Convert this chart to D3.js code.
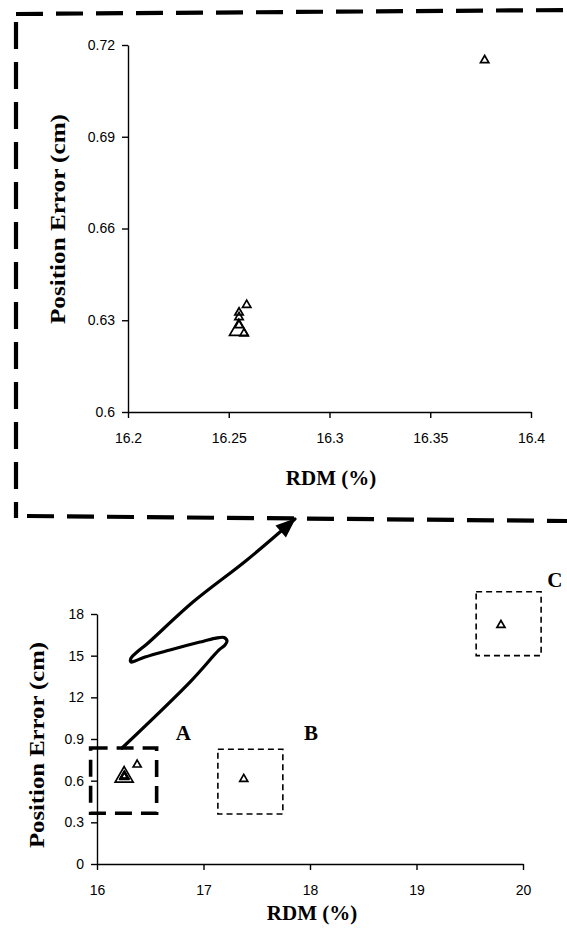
<!DOCTYPE html>
<html>
<head>
<meta charset="utf-8">
<script src="https://cdn.jsdelivr.net/npm/d3@7"></script>
<style>
  html, body { margin: 0; padding: 0; background: #fff; }
  svg { display: block; }
  .tick-label { font-family: "Liberation Sans", Arial, sans-serif; font-size: 14px; fill: #000; }
  .title { font-family: "Liberation Serif", "Times New Roman", serif; font-weight: bold; fill: #000; }
</style>
</head>
<body>
<svg id="chart" width="567" height="941"></svg>
<script>
// ---- data ----
// RDM (%) and position error (cm) for each simulated source position
const rdm      = [16.2589, 16.2551, 16.2551, 16.2551, 16.2576, 16.377, 17.378, 19.793];
const posError = [0.635,   0.6325,  0.631,   0.6284,  0.6257,  0.715,  0.612,  1.72];
// highlighted point (drawn with a larger marker)
const hiRdm = [16.255];
const hiErr = [0.6268];

// tick values and labels, zoomed-in panel
const zoomXTicks  = [16.2, 16.25, 16.3, 16.35, 16.4];
const zoomXLabels = ["16.2", "16.25", "16.3", "16.35", "16.4"];
const zoomYTicks  = [0.6, 0.63, 0.66, 0.69, 0.72];
const zoomYLabels = ["0.6", "0.63", "0.66", "0.69", "0.72"];

// tick values and labels, overview panel
const fullXTicks  = [16, 17, 18, 19, 20];
const fullXLabels = ["16", "17", "18", "19", "20"];
const fullYTicks  = [0, 0.3, 0.6, 0.9, 1.2, 1.5, 1.8];
const fullYLabels = ["0", "0.3", "0.6", "0.9", "12", "15", "18"];

// region boxes in the overview panel: [xMin, xMax, yMin, yMax]
const regionNames = ["A", "B", "C"];
const regionBoxes = [[15.94, 16.56, 0.365, 0.835], [17.135, 17.745, 0.36, 0.826], [19.56, 20.17, 1.50, 1.96]];
const letterPos   = [[16.81, 0.94], [18.01, 0.94], [20.30, 2.045]];
// callout arrow from region A up to the zoomed panel (RDM, error units of the overview panel)
const arrowRdm = [16.235, 16.873, 17.146, 17.202, 17.221, 17.192, 17.108, 16.967, 16.685, 16.451, 16.357, 16.319, 16.319, 16.376, 16.469, 16.901, 17.408, 17.859];
const arrowErr = [0.835, 1.310, 1.541, 1.577, 1.606, 1.631, 1.624, 1.598, 1.541, 1.490, 1.462, 1.454, 1.483, 1.526, 1.584, 1.886, 2.189, 2.484];

const svg = d3.select("#chart");

// ---- scales ----
const xZoom = d3.scaleLinear().domain([16.2, 16.4]).range([128, 531]);
const yZoom = d3.scaleLinear().domain([0.6, 0.72]).range([412, 45]);
const xFull = d3.scaleLinear().domain([16, 20]).range([97, 523]);
const yFull = d3.scaleLinear().domain([0, 1.8]).range([864, 614]);

const points = rdm.map((r, i) => ({ x: r, y: posError[i] }));
const hiPoints = hiRdm.map((r, i) => ({ x: r, y: hiErr[i] }));

function drawAxes(xs, ys, xt, xl, yt, yl) {
  const gx = svg.append("g").attr("transform", `translate(0,${ys.range()[0]})`)
    .call(d3.axisBottom(xs).tickValues(xt).tickSize(6).tickSizeOuter(0)
      .tickFormat((d, i) => xl[i]));
  const gy = svg.append("g").attr("transform", `translate(${xs.range()[0]},0)`)
    .call(d3.axisLeft(ys).tickValues(yt).tickSize(6).tickSizeOuter(0).tickPadding(7)
      .tickFormat((d, i) => yl[i]));
  [gx, gy].forEach(g => {
    g.select(".domain").attr("stroke", "#000").attr("stroke-width", 1.4);
    g.selectAll(".tick line").attr("stroke", "#000").attr("stroke-width", 1.4);
    g.selectAll(".tick text").attr("class", "tick-label").attr("font-family", null).attr("font-size", null);
  });
  gx.selectAll(".tick text").attr("dy", "0.32em").attr("y", 27);
}

function drawTriangles(data, xs, ys, size) {
  const sym = d3.symbol().type(d3.symbolTriangle).size(size);
  svg.append("g").selectAll("path").data(data).join("path")
    .attr("d", sym)
    .attr("transform", d => `translate(${xs(d.x)},${ys(d.y)})`)
    .attr("fill", "none").attr("stroke", "#000").attr("stroke-width", 1.7)
    .attr("stroke-linejoin", "miter");
}

// ---- zoomed panel (top) ----
drawAxes(xZoom, yZoom, zoomXTicks, zoomXLabels, zoomYTicks, zoomYLabels);
const [zx0, zx1] = xZoom.domain(), [zy0, zy1] = yZoom.domain();
drawTriangles(points.filter(d => d.x >= zx0 && d.x <= zx1 && d.y >= zy0 && d.y <= zy1), xZoom, yZoom, 30);
drawTriangles(hiPoints, xZoom, yZoom, 150);

svg.append("text").attr("class", "title")
  .attr("x", 331).attr("y", 485).attr("text-anchor", "middle").attr("font-size", 21)
  .text("RDM (%)");
svg.append("text").attr("class", "title")
  .attr("transform", "translate(65,219) rotate(-90)")
  .attr("text-anchor", "middle").attr("font-size", 20)
  .attr("textLength", 210).attr("lengthAdjust", "spacingAndGlyphs")
  .text("Position Error (cm)");

// dashed frame round the zoomed panel
const frame = [
  [[16, 14], [567, 10]],
  [[16, 22], [16, 518]],
  [[27, 516], [567, 521]]
];
svg.append("g").selectAll("line").data(frame).join("line")
  .attr("x1", d => d[0][0]).attr("y1", d => d[0][1])
  .attr("x2", d => d[1][0]).attr("y2", d => d[1][1])
  .attr("stroke", "#000").attr("stroke-width", 4.2)
  .attr("stroke-dasharray", "27,13");

// ---- overview panel (bottom) ----
drawAxes(xFull, yFull, fullXTicks, fullXLabels, fullYTicks, fullYLabels);

// region boxes
svg.append("g").selectAll("rect").data(regionBoxes).join("rect")
  .attr("x", d => xFull(d[0])).attr("width", d => xFull(d[1]) - xFull(d[0]))
  .attr("y", d => yFull(d[3])).attr("height", d => yFull(d[2]) - yFull(d[3]))
  .attr("fill", "none").attr("stroke", "#000")
  .attr("stroke-width", (d, i) => i === 0 ? 3.6 : 1.6)
  .attr("stroke-dasharray", (d, i) => i === 0 ? "17,9" : "6,4");

drawTriangles(points, xFull, yFull, 28);
drawTriangles(hiPoints, xFull, yFull, 140);

// region letters
svg.append("g").selectAll("text").data(regionNames).join("text")
  .attr("class", "title").attr("font-size", 21)
  .attr("x", (d, i) => xFull(letterPos[i][0])).attr("y", (d, i) => yFull(letterPos[i][1]) + 7)
  .attr("text-anchor", "middle")
  .text(d => d);

// callout arrow
svg.append("defs").append("marker")
  .attr("id", "head").attr("markerUnits", "userSpaceOnUse")
  .attr("viewBox", "-20 -10 22 20").attr("refX", 0).attr("refY", 0)
  .attr("markerWidth", 22).attr("markerHeight", 20).attr("orient", "auto")
  .append("path").attr("d", "M1,0 L-19,-8 L-19,8 Z").attr("fill", "#000");

const arrowLine = d3.line().curve(d3.curveCatmullRom.alpha(0.5))
  .x(d => xFull(d[0])).y(d => yFull(d[1]));
svg.append("path")
  .datum(arrowRdm.map((r, i) => [r, arrowErr[i]]))
  .attr("d", arrowLine)
  .attr("fill", "none").attr("stroke", "#000").attr("stroke-width", 3.2)
  .attr("stroke-linecap", "round").attr("stroke-linejoin", "round")
  .attr("marker-end", "url(#head)");

svg.append("text").attr("class", "title")
  .attr("x", 312).attr("y", 920).attr("text-anchor", "middle").attr("font-size", 21)
  .text("RDM (%)");
svg.append("text").attr("class", "title")
  .attr("transform", "translate(44,745) rotate(-90)")
  .attr("text-anchor", "middle").attr("font-size", 20)
  .attr("textLength", 206).attr("lengthAdjust", "spacingAndGlyphs")
  .text("Position Error (cm)");
</script>
</body>
</html>
